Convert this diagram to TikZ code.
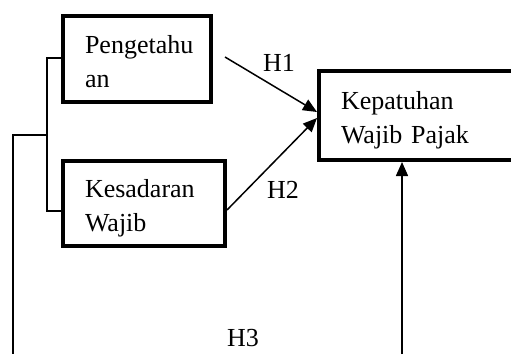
\documentclass[tikz,border=0pt]{standalone}
\usepackage{fontspec}
\setmainfont{Liberation Serif}
\usetikzlibrary{arrows.meta}
\newcommand{\hstrut}{\rule{0pt}{28pt}}
\newcommand{\dstrut}{\rule[-6pt]{0pt}{6pt}}
\begin{document}
\begin{tikzpicture}[x=1pt,y=-1pt,
  box/.style={draw,line width=4pt,inner xsep=22pt,inner ysep=0pt,align=left,
    font=\fontsize{26}{34}\selectfont},
  conn/.style={line width=1.5pt},
  arr/.style={line width=1.5pt,-{Triangle[length=14pt,width=12pt]}},
  lbl/.style={anchor=base west,inner sep=0pt,font=\fontsize{26}{34}\selectfont}]
\useasboundingbox (0,0) rectangle (511,354);
\node[box,text width=104pt,minimum height=86pt] (p) at (137,59) {\hstrut Pengetahu\\an\dstrut};
\node[box,text width=118pt,minimum height=85pt] (k) at (144,203.5) {\hstrut Kesadaran\\Wajib\dstrut};
\node[box,text width=151pt,minimum height=89pt,xshift=0pt] (y) at (416.5,115.5) {\hstrut Kepatuhan\\Wajib Pajak\dstrut};
\coordinate (h1s) at (225,57);
\coordinate (m) at (47,135);
\coordinate (b3) at (13,354);
\coordinate (b4) at (402,354);
\draw[conn] ([yshift=1pt]p.west) -- (47,58) -- (47,211) -- ([yshift=-7.5pt]k.west);
\draw[conn] (m) -- (13,135) -- (b3);
\draw[arr] (h1s) -- ([yshift=3.5pt]y.west);
\draw[arr] ([yshift=-6.5pt]k.east) -- ([yshift=-2.5pt]y.west);
\draw[arr] (b4) -- (y.south -| b4);
\node[lbl] (l1) at (263,71) {H1};
\node[lbl] (l2) at (267,198) {H2};
\node[lbl] (l3) at (227,346) {H3};
\end{tikzpicture}
\end{document}
